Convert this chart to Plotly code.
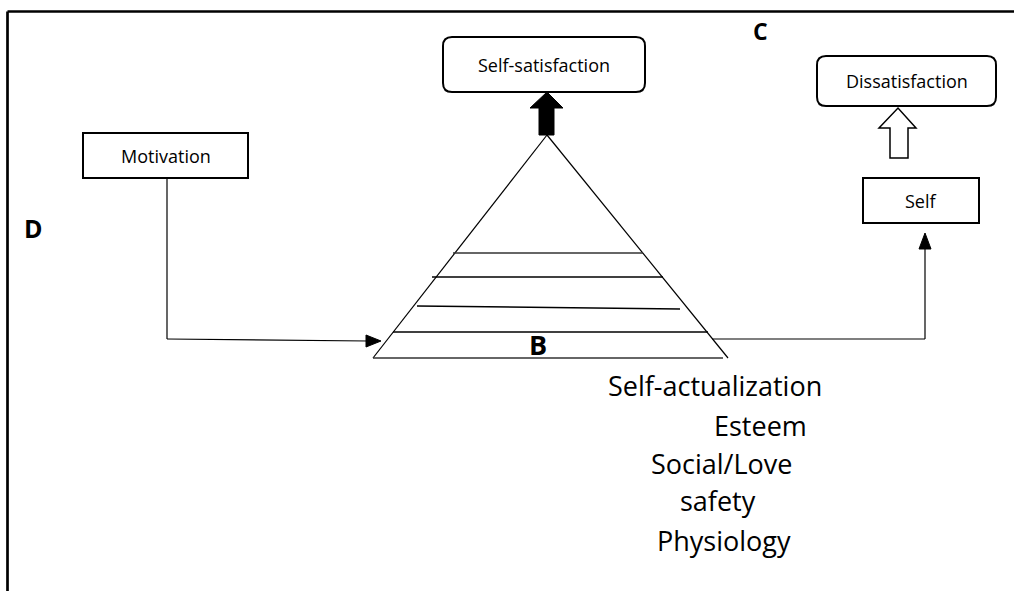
import plotly.graph_objects as go

# ---- content ----
box_labels = ["Motivation", "Self-satisfaction", "Dissatisfaction", "Self"]
level_labels = ["Self-actualization", "Esteem", "Social/Love", "safety", "Physiology"]
letter_labels = ["B", "C", "D"]

W, H = 1014, 591
fig = go.Figure()
shapes = []
annotations = []

def line(x0, y0, x1, y1, w=1.2, color="black"):
    shapes.append(dict(type="line", x0=x0, y0=y0, x1=x1, y1=y1,
                       line=dict(color=color, width=w)))

def rect(x0, y0, x1, y1, w=2):
    shapes.append(dict(type="rect", x0=x0, y0=y0, x1=x1, y1=y1,
                       line=dict(color="black", width=w), fillcolor="white"))

def rrect(x0, y0, x1, y1, r=8, w=2):
    p = (f"M {x0+r},{y0} L {x1-r},{y0} Q {x1},{y0} {x1},{y0+r} "
         f"L {x1},{y1-r} Q {x1},{y1} {x1-r},{y1} L {x0+r},{y1} "
         f"Q {x0},{y1} {x0},{y1-r} L {x0},{y0+r} Q {x0},{y0} {x0+r},{y0} Z")
    shapes.append(dict(type="path", path=p, line=dict(color="black", width=w),
                       fillcolor="white"))

def poly(pts, fill="black", w=1):
    p = "M " + " L ".join(f"{x},{y}" for x, y in pts) + " Z"
    shapes.append(dict(type="path", path=p, fillcolor=fill,
                       line=dict(color="black", width=w)))

def text(x, y, s, size=14, bold=False, xanchor="center", family="Open Sans"):
    annotations.append(dict(x=x, y=y, xref="x", yref="y", text=(f"<b>{s}</b>" if bold else s),
                            showarrow=False, xanchor=xanchor, yanchor="middle",
                            font=dict(size=size, color="black", family=family)))

# outer frame (top and left)
line(7.5, 11.5, W + 5, 11.5, w=2.7)
line(7.5, 11.5, 7.5, H + 5, w=2.7)

# Motivation box + connector to pyramid
rect(83, 133, 248, 178)
text(165.5, 156, box_labels[0], size=18)
line(167, 178, 167, 339)
line(167, 339, 368, 341)
poly([(366, 335), (381, 341), (366, 347)])

# pyramid
apex = (547, 135)
bl = (373, 358)
br = (728, 358)
line(*apex, *bl)
line(*apex, *br)
line(373, 358, 723, 358, w=1.6, color="#333")
line(453, 253, 643, 253, w=1.4, color="#333")
line(432, 277, 663, 277, w=1.4)
line(417, 306, 680, 309, w=1.4)
line(393, 332, 708, 332, w=1.4)
text(538, 344, letter_labels[0], size=27, bold=True)

# self-satisfaction box with solid arrow
rrect(443, 37, 645, 92, r=9)
text(544, 64.5, box_labels[1], size=18)
poly([(539, 135), (539, 108), (530, 108), (547, 92), (563, 108), (554, 108), (554, 135)])

# right connector to Self
line(712, 339, 925, 339)
line(925, 339, 925, 248)
poly([(919, 249), (925, 233), (931, 249)])
rect(863, 178, 979, 223)
text(921, 200.5, box_labels[3], size=18)

# hollow arrow + Dissatisfaction
poly([(890, 158), (890, 128), (879, 128), (898, 108), (916, 128), (908, 128), (908, 158)],
     fill="white", w=1.5)
rrect(817, 56, 996, 106, r=9)
text(906.5, 81, box_labels[2], size=18)

# letters
text(760, 31, letter_labels[1], size=23, bold=True)
text(33, 228, letter_labels[2], size=25, bold=True)

# level list
level_x = [606, 712, 649, 678, 655]
level_y = [385, 425, 463, 500, 540]
for s, x, y in zip(level_labels, level_x, level_y):
    text(x, y, s, size=27, xanchor="left")

fig.update_layout(
    width=W, height=H, margin=dict(l=0, r=0, t=0, b=0),
    paper_bgcolor="white", plot_bgcolor="white",
    xaxis=dict(range=[0, W], visible=False, fixedrange=True),
    yaxis=dict(range=[H, 0], visible=False, fixedrange=True),
    shapes=shapes, annotations=annotations, showlegend=False,
)
fig.write_html("out.html", config={"displayModeBar": False},
               post_script="document.body.style.margin='0';document.body.style.overflow='hidden';")
